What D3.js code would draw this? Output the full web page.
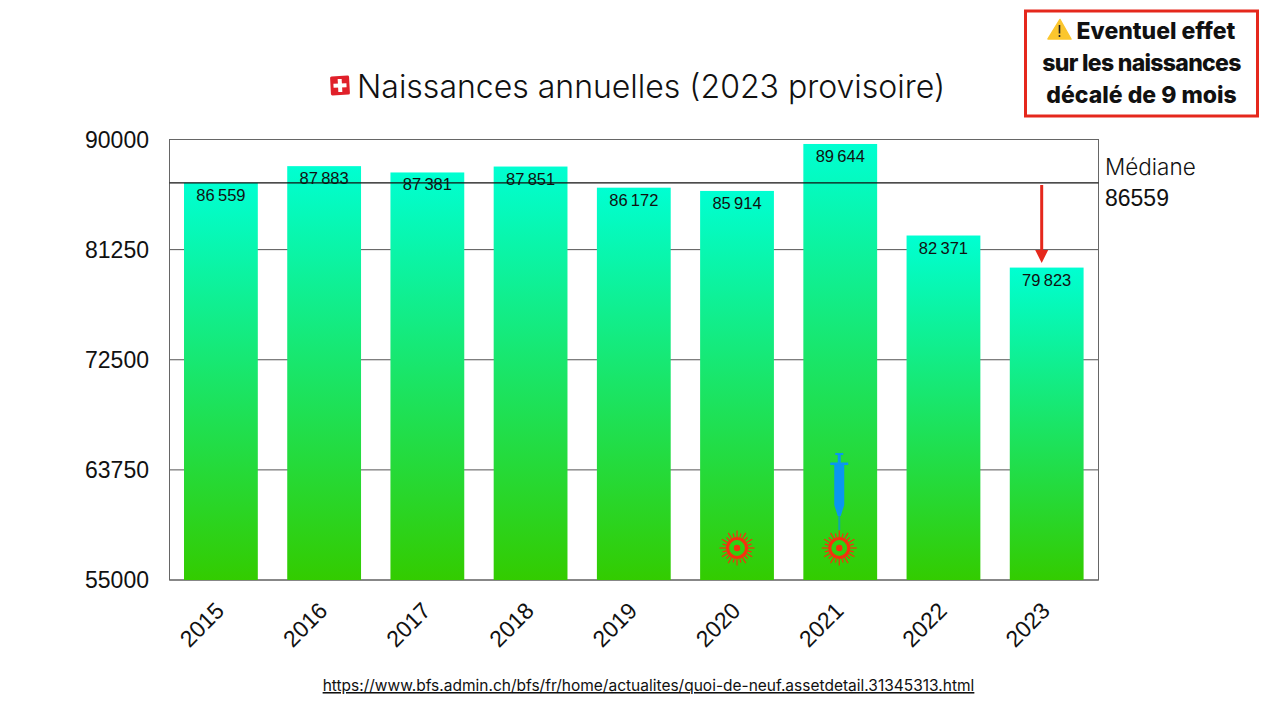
<!DOCTYPE html>
<html><head><meta charset="utf-8">
<script src="https://cdn.jsdelivr.net/npm/d3@7"></script>
<style>html,body{margin:0;padding:0;background:#fff}svg{display:block}text{font-family:Inter,"Noto Sans",sans-serif;fill:#111}.num{font-family:"Liberation Sans",sans-serif}</style>
</head><body><svg id="c" width="1280" height="720"></svg>
<script>
const years = ["2015","2016","2017","2018","2019","2020","2021","2022","2023"];
const births = [86559,87883,87381,87851,86172,85914,89644,82371,79823];
const yTicks = [55000,63750,72500,81250,90000];
const median = 86559;
const titleText = "Naissances annuelles (2023 provisoire)";
const noteLines = ["Eventuel effet","sur les naissances","décalé de 9 mois"];
const sourceUrl = "https://www.bfs.admin.ch/bfs/fr/home/actualites/quoi-de-neuf.assetdetail.31345313.html";
const virusYears = ["2020","2021"];
const vaccineYear = "2021";
const arrowYear = "2023";

const svg = d3.select("#c");
const L=169.5,R=1098.5,T=139.5,B=580;
const x = d3.scaleBand().domain(years).range([L-0.2,R-0.2]).paddingInner(0.285).paddingOuter(0.1425);
const y = d3.scaleLinear().domain([55000,90000]).range([B,T]);
const fmt = d3.formatLocale({decimal:",",thousands:"\u2009",grouping:[3],currency:["",""]}).format(",d");

const defs = svg.append("defs");
const g = defs.append("linearGradient").attr("id","bar").attr("x1",0).attr("x2",0).attr("y1",0).attr("y2",1);
g.append("stop").attr("offset","0").attr("stop-color","#00ffd2");
g.append("stop").attr("offset","0.5").attr("stop-color","#1ae567");
g.append("stop").attr("offset","1").attr("stop-color","#33cc00");

svg.append("g").selectAll("line").data(yTicks).join("line")
  .attr("x1",L).attr("x2",R).attr("y1",d=>y(d)).attr("y2",d=>y(d))
  .attr("stroke","#555").attr("stroke-width",1);
svg.append("rect").attr("x",L).attr("y",T).attr("width",R-L).attr("height",B-T)
  .attr("fill","none").attr("stroke","#666").attr("stroke-width",1);

svg.append("g").selectAll("rect").data(births).join("rect")
  .attr("x",(d,i)=>x(years[i])).attr("width",x.bandwidth())
  .attr("y",d=>y(d)).attr("height",d=>B-y(d)).attr("fill","url(#bar)");

svg.append("line").attr("x1",L).attr("x2",R).attr("y1",y(median)).attr("y2",y(median))
  .attr("stroke","#111").attr("stroke-width",1.2);

svg.append("g").selectAll("text").data(births).join("text").attr("class","num")
  .attr("x",(d,i)=>x(years[i])+x.bandwidth()/2).attr("y",d=>y(d)+18)
  .attr("text-anchor","middle").attr("font-size",16.5).text(d=>fmt(d));

svg.append("g").selectAll("text").data(yTicks).join("text").attr("class","num")
  .attr("x",149).attr("y",d=>y(d)+8).attr("text-anchor","end").attr("font-size",23).text(d=>d);
svg.append("g").selectAll("text").data(years).join("text").attr("class","num")
  .attr("transform",d=>`translate(${x(d)+x.bandwidth()/2-1.5},${B+26}) rotate(-45)`)
  .attr("text-anchor","end").attr("dominant-baseline","hanging").attr("dy",-8)
  .attr("font-size",23).text(d=>d);

svg.append("text").attr("x",1105).attr("y",175).attr("font-size",22.5).attr("font-weight",300).text("Médiane");
svg.append("text").attr("class","num").attr("x",1105).attr("y",206).attr("font-size",23).text(median);

svg.append("text").attr("x",357).attr("y",98).attr("font-size",32).attr("font-weight",300).text(titleText);
const flag = svg.append("g").attr("transform","translate(340,85.5) rotate(-3)");
flag.append("rect").attr("x",-9.5).attr("y",-9.5).attr("width",19).attr("height",19).attr("fill","#e0202a").attr("rx",1.5);
flag.append("rect").attr("x",-6.5).attr("y",-2).attr("width",13).attr("height",4).attr("fill","#fff");
flag.append("rect").attr("x",-2).attr("y",-6.5).attr("width",4).attr("height",13).attr("fill","#fff");

svg.append("rect").attr("x",1025.5).attr("y",11).attr("width",232).attr("height",105)
  .attr("fill","#fff").attr("stroke","#e5281c").attr("stroke-width",3);
svg.append("g").selectAll("text").data(noteLines).join("text")
  .attr("x",(d,i)=>i==0?1156:1141.5).attr("y",(d,i)=>39+i*32)
  .attr("text-anchor","middle").attr("font-size",23).attr("font-weight",800)
  .attr("letter-spacing",(d,i)=>i==1?-0.7:0).text(d=>d);
svg.append("path").attr("d","M1060,19.5 L1071,39 L1048,39 Z").attr("fill","#fbc62d").attr("stroke","#fbc62d").attr("stroke-width",1.5).attr("stroke-linejoin","round");
svg.append("path").attr("d","M1059.5,25 V33.5 M1059.5,35 V37").attr("stroke","#222").attr("stroke-width",1.6);

const ax = x(arrowYear)+x.bandwidth()/2-5;
svg.append("line").attr("x1",ax).attr("x2",ax).attr("y1",185).attr("y2",252).attr("stroke","#e5281c").attr("stroke-width",3);
svg.append("path").attr("d",`M${ax-6.5},250 L${ax+6.5},250 L${ax},263 Z`).attr("fill","#e5281c");

function virus(cx,cy){
  const v = svg.append("g").attr("transform",`translate(${cx},${cy})`);
  v.append("g").selectAll("line").data(d3.range(24)).join("line")
    .attr("x1",d=>11*Math.cos(d*Math.PI/12)).attr("y1",d=>11*Math.sin(d*Math.PI/12))
    .attr("x2",d=>(d%2?15:17.5)*Math.cos(d*Math.PI/12)).attr("y2",d=>(d%2?15:17.5)*Math.sin(d*Math.PI/12))
    .attr("stroke","#f5300f").attr("stroke-width",1.2);
  v.append("circle").attr("r",9.5).attr("fill","none").attr("stroke","#f5300f").attr("stroke-width",3.2);
  v.append("circle").attr("r",3.2).attr("fill","#f5300f");
}
virusYears.forEach(d=>virus(x(d)+x.bandwidth()/2+(d==="2021"?-1:0),548));

const sx = x(vaccineYear)+x.bandwidth()/2-1;
const s = svg.append("g").attr("transform",`translate(${sx},0)`);
const blue="#0a96f0";
s.append("rect").attr("x",-4).attr("y",453).attr("width",8).attr("height",2).attr("fill",blue);
s.append("rect").attr("x",-1.5).attr("y",454).attr("width",3).attr("height",9).attr("fill",blue);
s.append("rect").attr("x",-9).attr("y",462.5).attr("width",18).attr("height",2.5).attr("fill",blue);
s.append("path").attr("d","M-5,465 H5 V505 L1.5,516 H-1.5 L-5,505 Z").attr("fill",blue);
s.append("rect").attr("x",-1).attr("y",516).attr("width",2).attr("height",14).attr("fill","#0fa8a8");

svg.append("text").attr("x",648.5).attr("y",691).attr("text-anchor","middle").attr("font-size",15.5)
  .attr("text-decoration","underline").text(sourceUrl);
</script></body></html>
